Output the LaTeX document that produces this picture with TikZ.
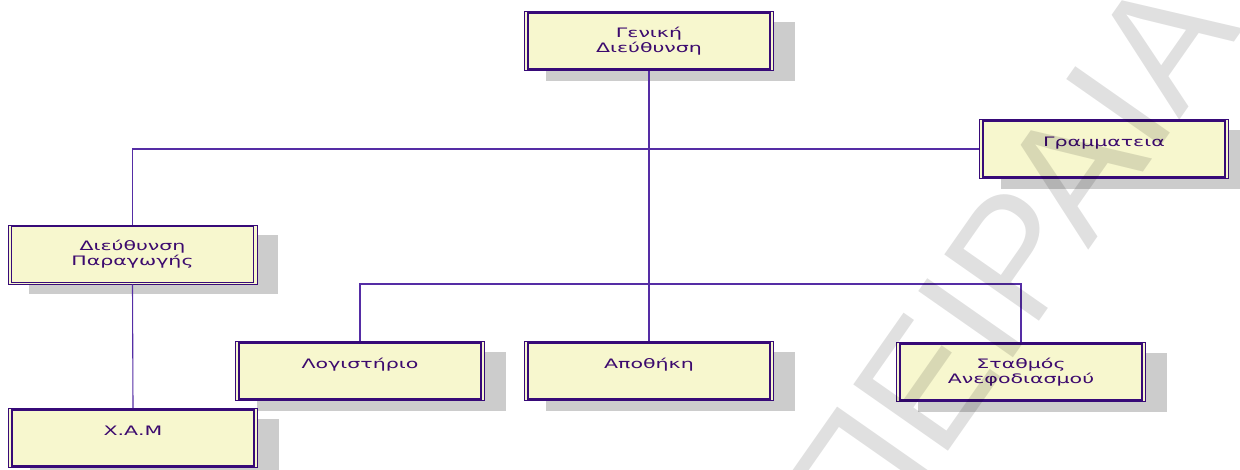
\documentclass[tikz,border=0pt]{standalone}
\usepackage{fontspec}
\setmainfont{DejaVu Sans}
\newfontfamily\boxfont[FakeStretch=1.58]{DejaVu Sans}
\newfontfamily\wmfont{Liberation Sans}
\usetikzlibrary{shadows}
\definecolor{boxline}{RGB}{55,10,120}
\definecolor{connline}{RGB}{85,45,165}
\definecolor{boxfill}{RGB}{247,247,206}
\definecolor{shadowc}{RGB}{204,204,204}
\definecolor{txtc}{RGB}{60,10,110}
\begin{document}
\begin{tikzpicture}[x=1pt,y=-1pt,
  orgbox/.style={draw=boxline, line width=0.9pt, fill=boxfill,
    minimum width=249pt, minimum height=59pt, inner sep=0pt,
    font=\boxfont\fontsize{13}{15}\selectfont, text=txtc, align=center,
    drop shadow={shadow xshift=21pt, shadow yshift=-10pt, fill=shadowc, draw=none, opacity=1}},
  innerline/.style={draw=boxline, line width=1.5pt},
  conn/.style={draw=connline, line width=1.1pt}]
\useasboundingbox (0,0) rectangle (1240,469);
\node[orgbox] (gd) at (649,41) {Γενική\\Διεύθυνση};
\node[orgbox] (gram) at (1104,149) {Γραμματεια\\\mbox{}};
\node[orgbox] (dp) at (132.5,254.5) {Διεύθυνση\\Παραγωγής};
\node[orgbox] (log) at (360,371) {Λογιστήριο\\\mbox{}};
\node[orgbox] (apo) at (649,371) {Αποθήκη\\\mbox{}};
\node[orgbox] (stath) at (1021,372) {Σταθμός\\Ανεφοδιασμού};
\node[orgbox] (xam) at (133,438) {Χ.Α.Μ\\\mbox{}};
\foreach \n in {gd,gram,dp,log,apo,stath,xam}
  \draw[innerline] ([xshift=4pt,yshift=-2pt]\n.north west) rectangle ([xshift=-4pt,yshift=2pt]\n.south east);
\coordinate (bus) at (0,284);
\draw[conn] (gd.south) -- (apo.north);
\draw[conn] (dp.north) |- (gram.west);
\draw[conn] (dp.south) -- (xam.north);
\draw[conn] (log.north) -- (log.north |- bus) -- (stath.north |- bus) -- (stath.north);
\node[font=\wmfont\fontsize{168}{168}\selectfont, text=black, text opacity=0.12, rotate=55] (wm) at (1010,262) {ΠΕΙΡΑΙΑ};
\end{tikzpicture}
\end{document}
